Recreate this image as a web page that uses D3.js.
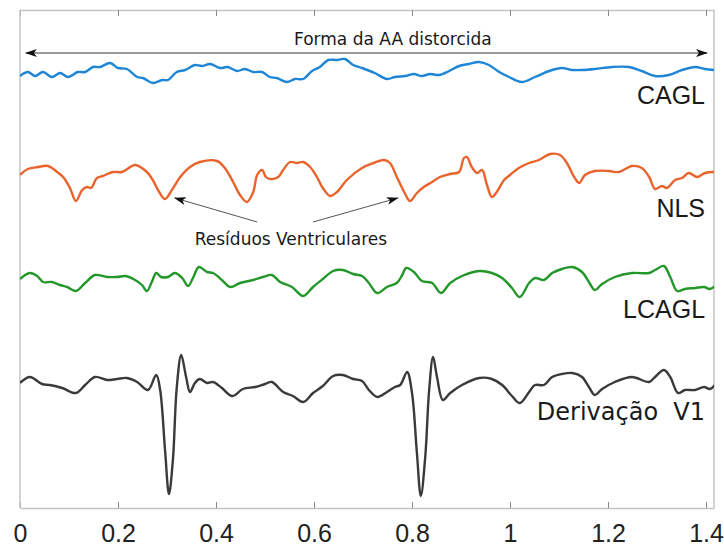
<!DOCTYPE html>
<html>
<head>
<meta charset="utf-8">
<script src="https://cdn.jsdelivr.net/npm/d3@7"></script>
<style>
	body { margin: 0; background: #fff; }
	svg { display: block; }
</style>
</head>
<body>
<div id="chart"></div>
<script>
// time in seconds, amplitude relative to each trace's own baseline
var xTicks = [0, 0.2, 0.4, 0.6, 0.8, 1, 1.2, 1.4];

var caglData = [[0.000,-0.06],[0.016,-0.02],[0.031,-0.06],[0.047,-0.02],[0.065,-0.07],[0.082,-0.03],[0.098,-0.07],[0.118,-0.02],[0.133,-0.02],[0.149,0.03],[0.163,0.03],[0.184,0.07],[0.200,0.02],[0.218,0.01],[0.239,-0.07],[0.251,-0.08],[0.271,-0.13],[0.290,-0.10],[0.302,-0.10],[0.320,-0.02],[0.337,0.00],[0.357,0.05],[0.371,0.04],[0.388,0.06],[0.408,0.02],[0.424,0.03],[0.443,-0.01],[0.459,0.01],[0.476,-0.02],[0.494,-0.02],[0.510,-0.07],[0.524,-0.08],[0.545,-0.12],[0.561,-0.09],[0.578,-0.09],[0.596,-0.01],[0.612,0.03],[0.629,0.10],[0.647,0.10],[0.663,0.11],[0.680,0.05],[0.698,0.02],[0.724,-0.03],[0.749,-0.09],[0.765,-0.07],[0.786,-0.06],[0.804,-0.04],[0.820,-0.06],[0.837,-0.04],[0.855,-0.05],[0.876,-0.01],[0.896,0.04],[0.916,0.06],[0.937,0.08],[0.957,0.05],[0.978,-0.02],[0.998,-0.07],[1.024,-0.12],[1.051,-0.07],[1.080,-0.01],[1.106,0.02],[1.127,0.00],[1.147,0.00],[1.173,0.01],[1.208,0.03],[1.243,0.03],[1.269,-0.01],[1.296,-0.06],[1.324,-0.05],[1.351,0.00],[1.378,0.03],[1.398,0.01],[1.418,0.00]];

var nlsData = [[0.000,-0.05],[0.016,0.01],[0.037,0.03],[0.057,0.04],[0.076,-0.02],[0.088,-0.07],[0.102,-0.18],[0.114,-0.31],[0.127,-0.20],[0.137,-0.17],[0.145,-0.18],[0.157,-0.08],[0.169,-0.06],[0.190,-0.02],[0.208,-0.02],[0.235,0.05],[0.259,-0.02],[0.271,-0.10],[0.284,-0.22],[0.296,-0.29],[0.310,-0.20],[0.327,-0.07],[0.347,0.03],[0.367,0.08],[0.402,0.09],[0.418,0.02],[0.435,-0.12],[0.449,-0.25],[0.463,-0.32],[0.476,-0.22],[0.484,-0.05],[0.494,0.00],[0.502,-0.07],[0.510,-0.09],[0.527,-0.07],[0.537,0.00],[0.551,0.08],[0.565,0.07],[0.578,0.08],[0.592,0.03],[0.606,-0.07],[0.618,-0.18],[0.633,-0.26],[0.647,-0.22],[0.667,-0.10],[0.698,0.02],[0.722,0.07],[0.743,0.10],[0.755,0.07],[0.769,-0.07],[0.784,-0.22],[0.796,-0.31],[0.810,-0.23],[0.824,-0.17],[0.841,-0.12],[0.857,-0.07],[0.878,-0.04],[0.896,-0.02],[0.906,0.12],[0.912,0.13],[0.922,0.03],[0.933,-0.03],[0.943,0.00],[0.953,-0.15],[0.963,-0.27],[0.973,-0.22],[0.988,-0.10],[1.000,-0.05],[1.018,0.02],[1.039,0.07],[1.059,0.10],[1.082,0.16],[1.102,0.15],[1.116,0.07],[1.131,-0.07],[1.141,-0.13],[1.153,-0.05],[1.173,-0.01],[1.202,-0.01],[1.222,-0.02],[1.249,0.04],[1.269,0.02],[1.284,-0.07],[1.296,-0.19],[1.310,-0.16],[1.320,-0.18],[1.337,-0.10],[1.351,-0.08],[1.365,-0.03],[1.382,-0.07],[1.398,-0.03],[1.418,-0.02]];

var lcaglData = [[0.000,-0.01],[0.020,0.05],[0.035,0.02],[0.047,-0.04],[0.065,-0.04],[0.082,-0.07],[0.096,-0.09],[0.114,-0.13],[0.133,-0.05],[0.153,0.03],[0.178,0.01],[0.198,0.01],[0.216,0.02],[0.235,-0.02],[0.249,-0.07],[0.259,-0.13],[0.269,-0.04],[0.278,0.05],[0.288,0.01],[0.302,0.01],[0.316,0.05],[0.331,0.00],[0.343,-0.08],[0.353,0.00],[0.365,0.11],[0.382,0.06],[0.394,0.05],[0.412,-0.02],[0.429,-0.09],[0.449,-0.05],[0.476,-0.02],[0.496,0.01],[0.514,0.03],[0.531,-0.04],[0.555,-0.09],[0.578,-0.18],[0.598,-0.09],[0.618,-0.01],[0.639,0.07],[0.659,0.08],[0.680,0.04],[0.698,0.02],[0.712,-0.05],[0.729,-0.15],[0.749,-0.09],[0.769,-0.05],[0.780,0.03],[0.788,0.10],[0.804,0.06],[0.820,-0.03],[0.841,-0.05],[0.859,-0.15],[0.878,-0.05],[0.902,0.02],[0.937,0.07],[0.963,0.05],[0.984,0.00],[1.004,-0.10],[1.020,-0.19],[1.039,-0.05],[1.051,0.00],[1.069,-0.02],[1.086,0.05],[1.106,0.09],[1.127,0.11],[1.147,0.06],[1.161,-0.04],[1.173,-0.12],[1.188,-0.06],[1.214,0.01],[1.249,0.05],[1.284,0.05],[1.296,0.08],[1.314,0.12],[1.327,0.01],[1.341,-0.13],[1.357,-0.11],[1.378,-0.10],[1.396,-0.09],[1.408,-0.11],[1.418,-0.08]];

var v1Data = [[0.000,-0.01],[0.020,0.05],[0.045,-0.02],[0.061,-0.03],[0.086,-0.06],[0.114,-0.11],[0.133,-0.03],[0.153,0.05],[0.178,0.02],[0.198,0.03],[0.218,0.04],[0.239,0.00],[0.261,-0.08],[0.278,0.07],[0.286,-0.08],[0.296,-0.68],[0.304,-1.12],[0.312,-0.78],[0.320,-0.05],[0.329,0.27],[0.339,0.05],[0.347,-0.10],[0.357,-0.01],[0.367,0.03],[0.382,-0.01],[0.394,0.00],[0.412,-0.06],[0.433,-0.14],[0.455,-0.07],[0.480,-0.05],[0.500,-0.02],[0.514,0.00],[0.537,-0.10],[0.557,-0.14],[0.578,-0.20],[0.598,-0.11],[0.618,-0.04],[0.639,0.06],[0.659,0.07],[0.680,0.03],[0.698,0.01],[0.712,-0.08],[0.729,-0.15],[0.749,-0.10],[0.765,-0.05],[0.776,-0.03],[0.790,0.10],[0.800,-0.11],[0.810,-0.71],[0.818,-1.14],[0.827,-0.75],[0.835,-0.08],[0.843,0.25],[0.851,0.05],[0.863,-0.18],[0.878,-0.11],[0.902,-0.03],[0.937,0.04],[0.963,0.03],[0.984,-0.03],[1.004,-0.14],[1.020,-0.21],[1.039,-0.10],[1.051,-0.03],[1.069,-0.03],[1.086,0.05],[1.106,0.08],[1.127,0.09],[1.147,0.05],[1.161,-0.05],[1.173,-0.13],[1.188,-0.07],[1.214,0.00],[1.249,0.05],[1.284,0.00],[1.296,0.05],[1.314,0.12],[1.327,0.05],[1.343,-0.11],[1.357,-0.08],[1.378,-0.08],[1.396,-0.05],[1.408,-0.07],[1.418,-0.03]];

var traceNames = ["CAGL", "NLS", "LCAGL", "Derivação  V1"];
var traceOffsets = [4.38, 3.38, 2.30, 1.26];
var traceColors = ["#1f86d6", "#e8642c", "#23972a", "#3a3a3a"];
var traceFonts = ["Liberation Sans", "Liberation Sans", "Liberation Sans", "DejaVu Sans"];
var labelLevels = [4.04, 2.91, 1.90, 0.88];

function drawChart() {
	var width = 724, height = 546;
	var pLeft = 20, pRight = 714, pTop = 10, pBottom = 508;

	var svg = d3.select("#chart").append("svg")
		.attr("width", width)
		.attr("height", height);

	var x = d3.scaleLinear().domain([0, 1.4163]).range([pLeft, pRight]);
	var y = d3.scaleLinear().domain([0, 4.98]).range([pBottom, pTop]);

	// arrow heads
	var defs = svg.append("defs");
	defs.append("marker")
		.attr("id", "head")
		.attr("viewBox", "0 0 12 8")
		.attr("refX", 11).attr("refY", 4)
		.attr("markerWidth", 12).attr("markerHeight", 8)
		.attr("markerUnits", "userSpaceOnUse")
		.attr("orient", "auto-start-reverse")
		.append("path")
		.attr("d", "M0,0 L12,4 L0,8 L3,4 Z")
		.attr("fill", "#111");

	defs.append("clipPath").attr("id", "plotclip")
		.append("rect")
		.attr("x", pLeft).attr("y", pTop)
		.attr("width", pRight - pLeft).attr("height", pBottom - pTop);

	// frame + ticks
	var bottomAxis = d3.axisBottom(x).tickValues(xTicks).tickFormat(d3.format("~g"))
		.tickSizeInner(-6).tickSizeOuter(0).tickPadding(0);
	var topAxis = d3.axisTop(x).tickValues(xTicks).tickFormat("")
		.tickSizeInner(-6).tickSizeOuter(0);

	var gb = svg.append("g").attr("transform", "translate(0," + pBottom + ")").call(bottomAxis);
	var gt = svg.append("g").attr("transform", "translate(0," + pTop + ")").call(topAxis);

	[gb, gt].forEach(function (g) {
		g.select(".domain").attr("stroke", "#c4c4c4").attr("stroke-width", 1.5);
		g.selectAll(".tick line").attr("stroke", "#8a8a8a").attr("stroke-width", 1);
	});
	gb.selectAll(".tick text")
		.attr("y", 34).attr("dy", 0)
		.attr("fill", "#222")
		.style("font-family", "Liberation Sans, Arial, sans-serif")
		.style("font-size", "25px");

	svg.append("line")
		.attr("x1", pLeft).attr("x2", pLeft).attr("y1", pTop).attr("y2", pBottom)
		.attr("stroke", "#c4c4c4").attr("stroke-width", 1.5);
	svg.append("line")
		.attr("x1", pRight).attr("x2", pRight).attr("y1", pTop).attr("y2", pBottom)
		.attr("stroke", "#c4c4c4").attr("stroke-width", 1.5);

	// traces
	var allTraces = [caglData, nlsData, lcaglData, v1Data];
	var plot = svg.append("g").attr("clip-path", "url(#plotclip)");

	allTraces.forEach(function (data, i) {
		var line = d3.line()
			.x(function (d) { return x(d[0]); })
			.y(function (d) { return y(d[1] + traceOffsets[i]); })
			.curve(d3.curveCatmullRom.alpha(0.5));
		plot.append("path")
			.datum(data)
			.attr("d", line)
			.attr("fill", "none")
			.attr("stroke", traceColors[i])
			.attr("stroke-width", 2.4)
			.attr("stroke-linejoin", "round");

		svg.append("text")
			.attr("x", x(1.398))
			.attr("y", y(labelLevels[i]))
			.attr("text-anchor", "end")
			.attr("fill", "#1a1a1a")
			.style("font-family", traceFonts[i])
			.style("font-size", i == 3 ? "24px" : "25px")
			.style("white-space", "pre")
			.text(traceNames[i]);
	});

	// annotations
	svg.append("line")
		.attr("x1", x(0.012)).attr("y1", y(4.55))
		.attr("x2", x(1.402)).attr("y2", y(4.55))
		.attr("stroke", "#333").attr("stroke-width", 1)
		.attr("marker-start", "url(#head)")
		.attr("marker-end", "url(#head)");

	svg.append("text")
		.attr("x", x(0.761)).attr("y", y(4.63))
		.attr("text-anchor", "middle")
		.attr("fill", "#1a1a1a")
		.style("font-family", "DejaVu Sans")
		.style("font-size", "17px")
		.text("Forma da AA distorcida");

	var ventArrows = [[0.484, 2.86, 0.316, 3.10], [0.598, 2.86, 0.771, 3.10]];
	ventArrows.forEach(function (a) {
		svg.append("line")
			.attr("x1", x(a[0])).attr("y1", y(a[1]))
			.attr("x2", x(a[2])).attr("y2", y(a[3]))
			.attr("stroke", "#555").attr("stroke-width", 1)
			.attr("marker-end", "url(#head)");
	});

	svg.append("text")
		.attr("x", x(0.553)).attr("y", y(2.63))
		.attr("text-anchor", "middle")
		.attr("fill", "#1a1a1a")
		.style("font-family", "DejaVu Sans")
		.style("font-size", "17px")
		.text("Resíduos Ventriculares");
}

drawChart();
</script>
</body>
</html>
